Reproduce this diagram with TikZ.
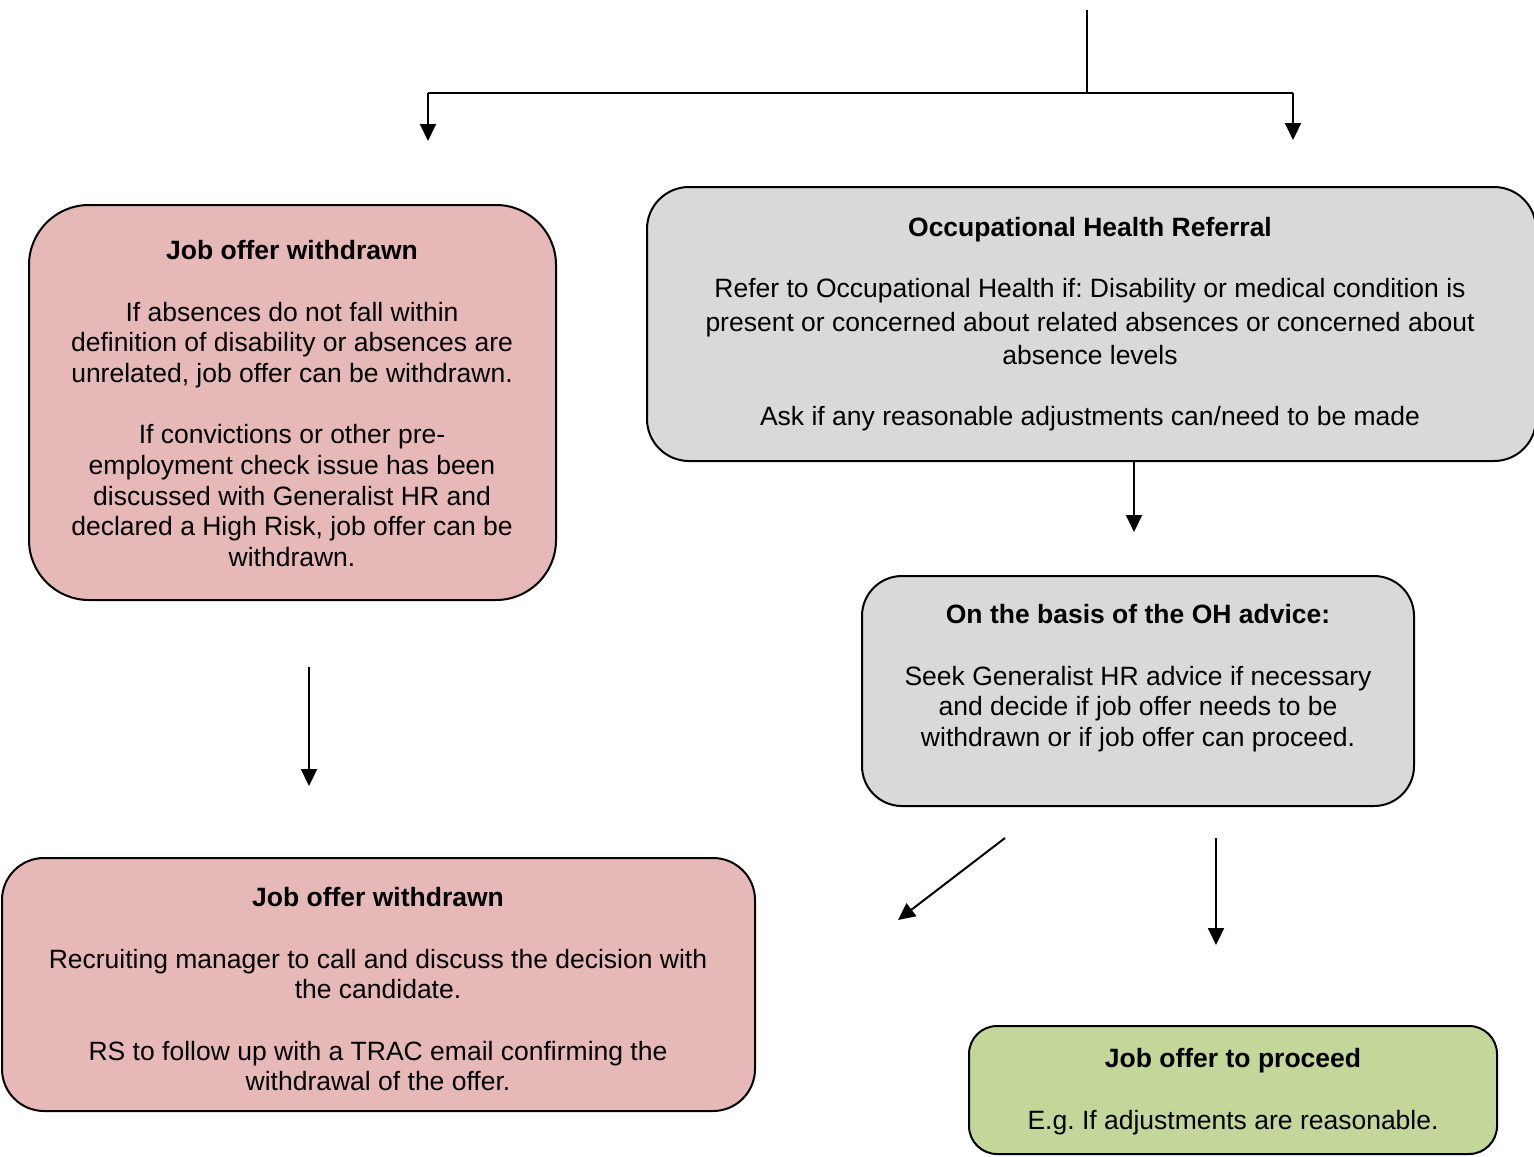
\documentclass[tikz,border=0pt]{standalone}
\usepackage{fontspec}
\setmainfont{Liberation Sans}
\usetikzlibrary{arrows.meta}
\frenchspacing
\definecolor{pinkc}{HTML}{E6B8B7}
\definecolor{greyc}{HTML}{D9D9D9}
\definecolor{greenc}{HTML}{C4D79B}
\tikzset{
  box/.style={draw=black, line width=1pt, inner sep=0pt, outer sep=0pt},
  txt/.style={anchor=north, inner sep=0pt, align=center, font=\fontsize{13.25}{15.35}\selectfont},
  arr/.style={line width=1pt, -{Triangle[width=8pt,length=8.5pt]}},
  ln/.style={line width=1pt}
}
\begin{document}
\begin{tikzpicture}[x=0.5pt,y=-0.5pt]
\useasboundingbox (0,0) rectangle (1534,1156);
% boxes
\node[box, fill=pinkc, rounded corners=30pt, minimum width=263.5pt, minimum height=197.5pt] (b1) at (292.5,402.5) {};
\node[box, fill=greyc, rounded corners=21pt, minimum width=444.5pt, minimum height=137pt] (b2) at (1091.5,324) {};
\node[box, fill=greyc, rounded corners=20pt, minimum width=276pt, minimum height=115pt] (b3) at (1138,691) {};
\node[box, fill=pinkc, rounded corners=21pt, minimum width=376.5pt, minimum height=126.5pt] (b4) at (378.5,984.5) {};
\node[box, fill=greenc, rounded corners=14pt, minimum width=264pt, minimum height=64pt] (b5) at (1233,1090) {};
% texts
\node[txt] (t1) at (292,240) {\textbf{Job offer withdrawn}\\[15.35pt]
If absences do not fall within\\
definition of disability or absences are\\
unrelated, job offer can be withdrawn.\\[15.35pt]
If convictions or other pre-\\
employment check issue has been\\
discussed with Generalist HR and\\
declared a High Risk, job offer can be\\
withdrawn.};
\node[txt, font=\fontsize{13.25}{16.75}\selectfont] (t2) at (1090,217) {\textbf{Occupational Health Referral}\\[13.75pt]
Refer to Occupational Health if: Disability or medical condition is\\
present or concerned about related absences or concerned about\\
absence levels\\[13.75pt]
Ask if any reasonable adjustments can/need to be made};
\node[txt] (t3) at (1138,604) {\textbf{On the basis of the OH advice:}\\[15.35pt]
Seek Generalist HR advice if necessary\\
and decide if job offer needs to be\\
withdrawn or if job offer can proceed.};
\node[txt] (t4) at (378,887) {\textbf{Job offer withdrawn}\\[15.35pt]
Recruiting manager to call and discuss the decision with\\
the candidate.\\[15.35pt]
RS to follow up with a TRAC email confirming the\\
withdrawal of the offer.};
\node[txt] (t5) at (1233,1048) {\textbf{Job offer to proceed}\\[15.35pt]
E.g. If adjustments are reasonable.};
% connectors
\coordinate (top) at (1087,10);
\coordinate (split) at (1087,93);
\coordinate (lc) at (428,93);
\coordinate (rc) at (1293,93);
\coordinate (la) at (428,141);
\coordinate (ra) at (1293,140);
\draw[ln] (top) -- (split);
\draw[ln] (lc) -- (rc);
\draw[arr] (lc) -- (la);
\draw[arr] (rc) -- (ra);
\coordinate (a1s) at (1134,462);
\coordinate (a1e) at (1134,532);
\draw[arr] (a1s) -- (a1e);
\coordinate (a2s) at (309,667);
\coordinate (a2e) at (309,786);
\draw[arr] (a2s) -- (a2e);
\coordinate (a3s) at (1005,838);
\coordinate (a3e) at (898,920);
\draw[arr] (a3s) -- (a3e);
\coordinate (a4s) at (1216,838);
\coordinate (a4e) at (1216,945);
\draw[arr] (a4s) -- (a4e);
\end{tikzpicture}
\end{document}
